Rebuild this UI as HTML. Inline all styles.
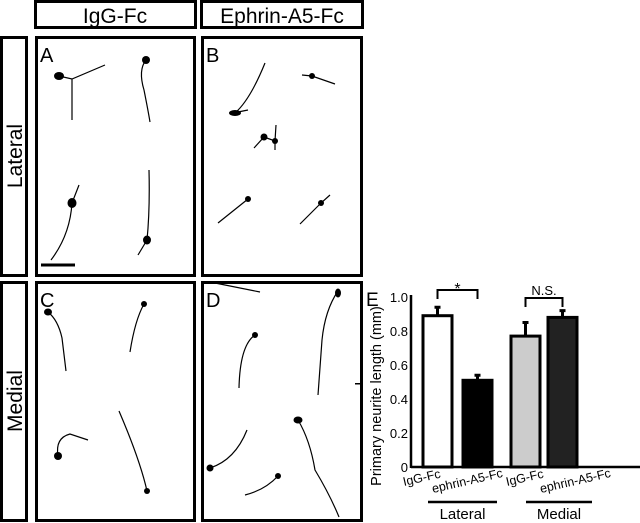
<!DOCTYPE html>
<html><head><meta charset="utf-8">
<style>
html,body{margin:0;padding:0;background:#fff;}
svg{display:block;font-family:"Liberation Sans",sans-serif;}
</style></head>
<body>
<svg width="640" height="523" viewBox="0 0 640 523" xmlns="http://www.w3.org/2000/svg">
  <g>
    <rect x="35.5" y="1.5" width="160" height="26" fill="none" stroke="#000" stroke-width="3"/>
    <text x="115" y="23" font-size="21" text-anchor="middle">IgG-Fc</text>
    <rect x="201.5" y="1.5" width="161" height="26" fill="none" stroke="#000" stroke-width="3"/>
    <text x="282" y="23" font-size="21" text-anchor="middle">Ephrin-A5-Fc</text>
  </g>
  <g>
    <rect x="1.5" y="37.5" width="25" height="238" fill="none" stroke="#000" stroke-width="3"/>
    <text transform="translate(22,156) rotate(-90)" font-size="21" text-anchor="middle">Lateral</text>
    <rect x="1.5" y="282.5" width="25" height="238" fill="none" stroke="#000" stroke-width="3"/>
    <text transform="translate(22,401) rotate(-90)" font-size="21" text-anchor="middle">Medial</text>
  </g>
  <g fill="none" stroke="#000" stroke-width="3">
    <rect x="36.5" y="37.5" width="158" height="238"/>
    <rect x="202.5" y="37.5" width="159" height="238"/>
    <rect x="36.5" y="282.5" width="158" height="238"/>
    <rect x="202.5" y="282.5" width="159" height="238"/>
  </g>
  <g font-size="20">
    <text x="40" y="62">A</text>
    <text x="206" y="62">B</text>
    <text x="40" y="307">C</text>
    <text x="206" y="307">D</text>
  </g>
  <g stroke="#000" stroke-width="1.2" fill="none">
    <path d="M59 76 L72 79 L105 65 M72 79 L72 120"/>
    <path d="M146 60 Q138 70 144 90 Q148 110 150 122"/>
    <path d="M72 203 L79 185 M72 203 Q70 235 51 260"/>
    <path d="M147 240 Q150 210 149 170 M147 240 L138 255"/>
    <line x1="41" y1="265" x2="75" y2="265" stroke-width="3"/>
    <path d="M235 113 Q250 100 265 63 M238 112 L248 110"/>
    <path d="M302 75 L312 76 L335 84"/>
    <path d="M254 148 L264 137 L275 141 L276 125 M275 141 L275 150"/>
    <path d="M248 199 L218 223"/>
    <path d="M330 195 L321 203 L300 224"/>
    <path d="M48 312 Q58 320 62 338 L66 371"/>
    <path d="M144 304 Q135 320 130 352"/>
    <path d="M58 456 Q55 438 70 434 L88 440"/>
    <path d="M147 491 Q140 460 119 411"/>
    <path d="M210 282 L260 292"/>
    <path d="M338 291 Q325 310 322 340 L318 395"/>
    <path d="M255 335 Q240 345 239 388"/>
    <path d="M210 468 Q235 460 247 430"/>
    <path d="M298 420 Q310 440 315 470 Q330 495 339 517"/>
    <path d="M278 476 Q265 490 245 495"/>
  </g>
  <g fill="#000">
    <ellipse cx="59" cy="76" rx="5" ry="4"/><ellipse cx="146" cy="60" rx="4" ry="4"/>
    <ellipse cx="72" cy="203" rx="4.5" ry="5"/><ellipse cx="147" cy="240" rx="4" ry="4.5"/>
    <ellipse cx="235" cy="113" rx="6" ry="3"/><circle cx="312" cy="76" r="3"/>
    <circle cx="264" cy="137" r="3.5"/><circle cx="275" cy="141" r="3"/>
    <circle cx="248" cy="199" r="3"/><circle cx="321" cy="203" r="3"/>
    <ellipse cx="48" cy="312" rx="4" ry="3.5"/><circle cx="144" cy="304" r="3"/>
    <ellipse cx="58" cy="456" rx="4" ry="4"/><circle cx="147" cy="491" r="3"/>
    <ellipse cx="338" cy="293" rx="3" ry="4.5"/><circle cx="255" cy="335" r="3"/>
    <circle cx="210" cy="468" r="3.5"/><ellipse cx="298" cy="420" rx="4.5" ry="3.5"/>
    <circle cx="278" cy="476" r="3"/>
    <rect x="355" y="383" width="6" height="1.5"/>
  </g>
  <text x="366" y="306" font-size="19">E</text>
  <g id="chart"></g>
</svg>
<script>
const categories = ["IgG-Fc", "ephrin-A5-Fc", "IgG-Fc", "ephrin-A5-Fc"];
const groups = ["Lateral", "Medial"];
const values = [0.89, 0.51, 0.77, 0.88];
const errors = [0.05, 0.03, 0.08, 0.04];
const fills = ["#ffffff", "#000000", "#cccccc", "#222222"];
const yTicks = [0, 0.2, 0.4, 0.6, 0.8, 1.0];
const yTickLabels = ["0", "0.2", "0.4", "0.6", "0.8", "1.0"];
const sigLabels = ["*", "N.S."];

const NS = "http://www.w3.org/2000/svg";
const g = document.getElementById("chart");
const y0 = 467, yPx = 170, axisX = 411;
const barW = 29;
const barX = [423, 463, 511, 548];
function y(v){ return y0 - v * yPx; }
function mk(tag, attrs, parent){
  const e = document.createElementNS(NS, tag);
  for (const k in attrs) e.setAttribute(k, attrs[k]);
  (parent || g).appendChild(e);
  return e;
}
let ax = mk("line", {x1: axisX, y1: y(1.0) - 2, x2: axisX, y2: y0 + 1, stroke: "#000", "stroke-width": 2.5});


let xa = mk("line", {x1: axisX, y1: y0, x2: 640, y2: y0, stroke: "#000", "stroke-width": 2.5});


yTicks.forEach((t, i) => {
  const tx = mk("text", {x: axisX - 3, y: y(t) + 5, "font-size": 13, "text-anchor": "end"});
  tx.textContent = yTickLabels[i];
  
  
});
const yt = mk("text", {transform: "translate(381,396) rotate(-90)", "font-size": 14.5, "text-anchor": "middle"});
yt.textContent = "Primary neurite length (mm)";


const labelPos = [[404, 486], [433, 493], [507, 486], [541, 493]];
values.forEach((v, i) => {
  const cx = barX[i] + barW / 2;
  const eb = mk("path", {d: `M${cx} ${y(v)} V${y(v + errors[i])} M${cx - 3} ${y(v + errors[i])} H${cx + 3}`, stroke: "#000", "stroke-width": 3, fill: "none"});
  
  
  const b = mk("rect", {x: barX[i], y: y(v), width: barW, height: y0 - y(v), fill: fills[i], stroke: "#000", "stroke-width": 3});
  
  
  const lb = mk("text", {transform: `translate(${labelPos[i][0]},${labelPos[i][1]}) rotate(-13)`, "font-size": 12.5});
  lb.textContent = categories[i];
  
  
});
[0, 1].forEach(k => {
  const a = barX[2 * k] + barW / 2, b2 = barX[2 * k + 1] + barW / 2;
  const topY = k ? 298 : 290;
  const br = mk("path", {d: `M${a} ${topY + 9} V${topY} H${b2} V${topY + 9}`, stroke: "#000", "stroke-width": 2, fill: "none"});
  
  
  const st = mk("text", {x: (a + b2) / 2, y: topY - (k ? 3 : -4), "font-size": k ? 13 : 16, "text-anchor": "middle"});
  st.textContent = sigLabels[k];
  
  
});
const gx = [[428, 497], [526, 592]];
groups.forEach((name, k) => {
  const ln = mk("line", {x1: gx[k][0], y1: 502, x2: gx[k][1], y2: 502, stroke: "#000", "stroke-width": 2.5});
  
  
  const t = mk("text", {x: (gx[k][0] + gx[k][1]) / 2, y: 519, "font-size": 15, "text-anchor": "middle"});
  t.textContent = name;
  
  
});
</script>
</body></html>
